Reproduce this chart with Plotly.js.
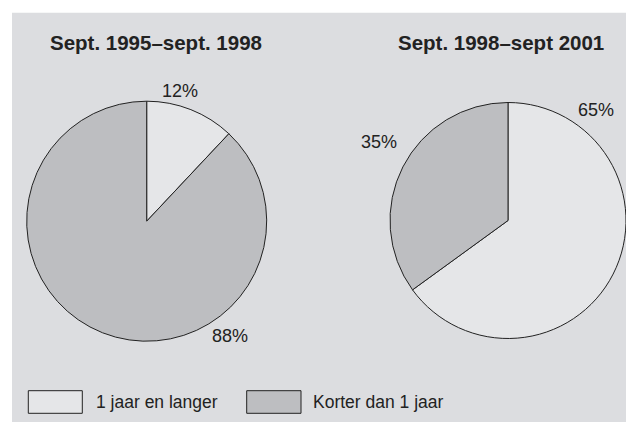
<!DOCTYPE html>
<html>
<head>
<meta charset="utf-8">
<script src="https://cdn.plot.ly/plotly-3.0.1.min.js"></script>
<style>html,body{margin:0;padding:0;background:#fff;}#chart{width:626px;height:423px;}</style>
</head>
<body>
<div id="chart"></div>
<script>
// ---- data ----
const categories = ['1 jaar en langer', 'Korter dan 1 jaar'];
const periods = ['Sept. 1995\u2013sept. 1998', 'Sept. 1998\u2013sept 2001'];
const values1995 = [12, 88];
const values1998 = [65, 35];

// ---- styling ----
const W = 626, H = 423;
const colors = ['#e5e6e8', '#bdbec1'];
const bg = '#dcdde0';
const ink = '#222222';
const font = 'Liberation Sans, Arial, sans-serif';
const px = x => x / W;
const py = y => 1 - y / H;

function pie(values, cx, cy, r, xmaxPx) {
  const x1 = cx + r;
  return {
    type: 'pie',
    values: values,
    labels: categories,
    sort: false,
    direction: 'clockwise',
    rotation: 0,
    textinfo: 'none',
    hoverinfo: 'none',
    showlegend: false,
    marker: {colors: colors, line: {color: ink, width: 1}},
    domain: {x: [px(cx - r), Math.min(1, px(x1))], y: [py(cy + r), py(cy - r)]}
  };
}

const data = [
  pie(values1995, 146.7, 221.2, 120),
  pie(values1998, 508.2, 220.5, 118.2)
];

const annotations = [];
function ann(text, x, y, opts) {
  annotations.push(Object.assign({
    text: text, x: px(x), y: py(y), xref: 'paper', yref: 'paper',
    showarrow: false, xanchor: 'center', yanchor: 'middle',
    font: {family: font, size: 18, color: ink}
  }, opts || {}));
}
// titles
ann('<b>' + periods[0] + '</b>', 156, 42, {font: {family: font, size: 20.5, color: ink}});
ann('<b>' + periods[1] + '</b>', 501, 42, {font: {family: font, size: 20.5, color: ink}});
// percentage labels
ann(values1995[0] + '%', 179.5, 91);
ann(values1995[1] + '%', 230, 335.5);
ann(values1998[1] + '%', 378.7, 142);
ann(values1998[0] + '%', 596, 110);
// legend
const shapes = [
  {type: 'rect', xref: 'paper', yref: 'paper', x0: px(12), x1: 1, y0: py(422), y1: py(12.7),
   fillcolor: bg, line: {width: 0}, layer: 'below'},
  {type: 'rect', xref: 'paper', yref: 'paper', x0: px(28.3), x1: px(82.3), y0: py(413.3), y1: py(390.7),
   fillcolor: colors[0], line: {color: ink, width: 1}},
  {type: 'rect', xref: 'paper', yref: 'paper', x0: px(246.7), x1: px(301), y0: py(413.3), y1: py(390.7),
   fillcolor: colors[1], line: {color: ink, width: 1}}
];
ann(categories[0], 94, 402, {xanchor: 'left', font: {family: font, size: 17.5, color: ink}});
ann(categories[1], 310.7, 402, {xanchor: 'left', font: {family: font, size: 17.5, color: ink}});

const layout = {
  width: W, height: H,
  margin: {l: 0, r: 0, t: 0, b: 0},
  paper_bgcolor: '#ffffff',
  plot_bgcolor: '#ffffff',
  showlegend: false,
  shapes: shapes,
  annotations: annotations
};

Plotly.newPlot('chart', data, layout, {staticPlot: true, displayModeBar: false});
</script>
</body>
</html>
